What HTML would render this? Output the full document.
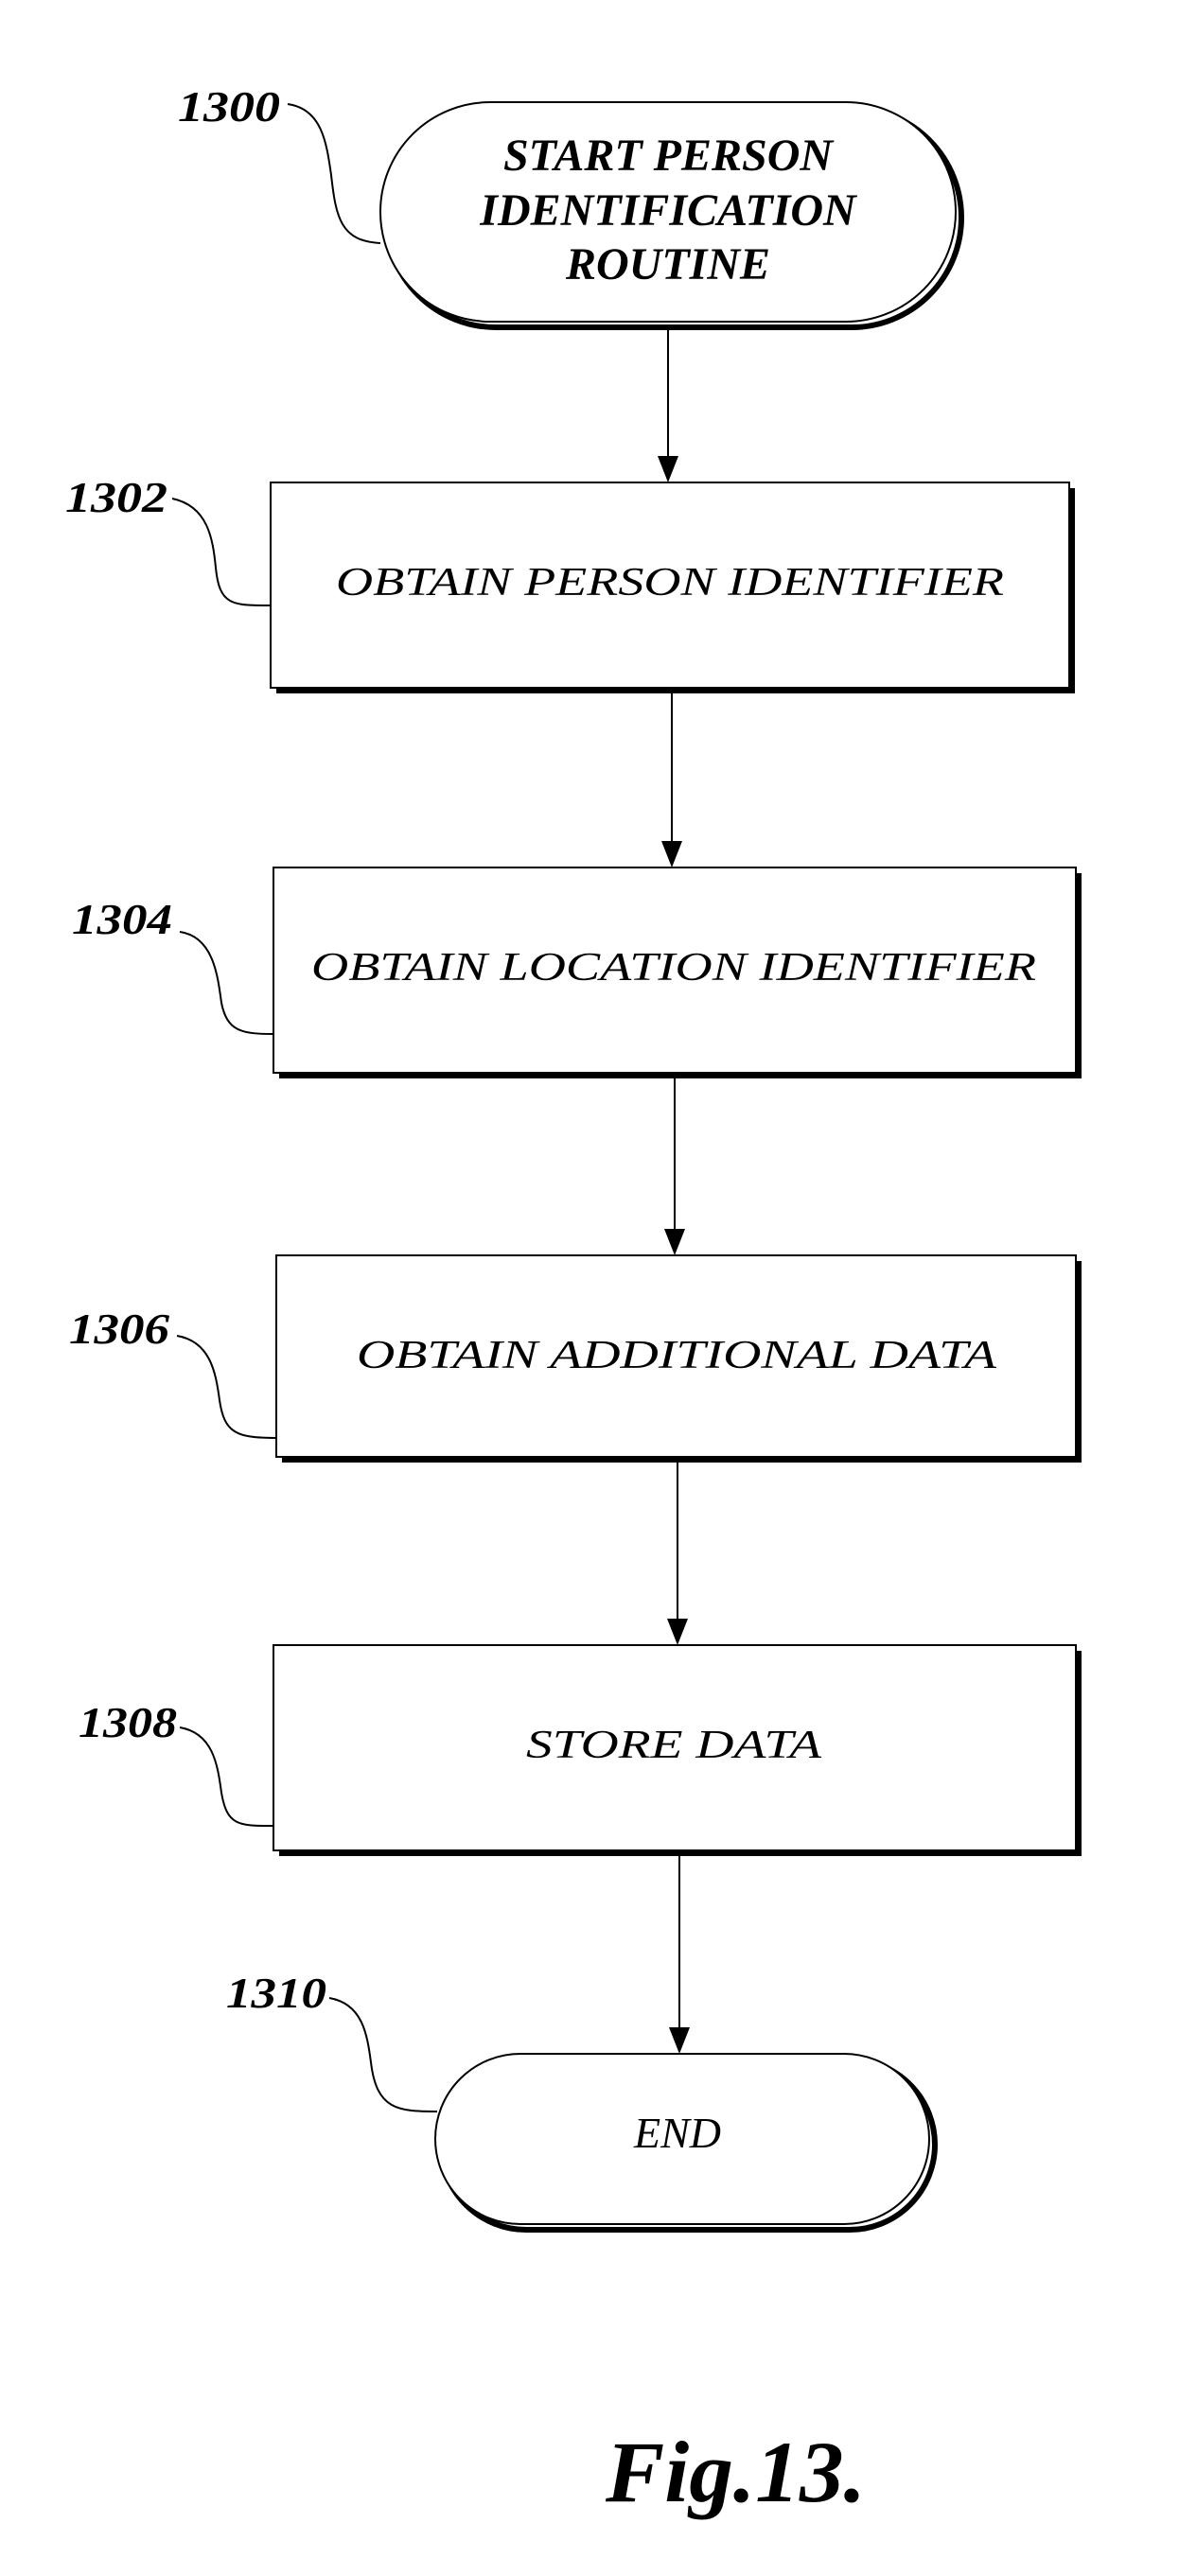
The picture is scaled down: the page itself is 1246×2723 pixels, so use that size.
<!DOCTYPE html>
<html><head><meta charset="utf-8"><style>
html,body{margin:0;padding:0;background:#fff;}
svg{display:block;}
text{font-family:"Liberation Serif",serif;font-style:italic;font-weight:bold;fill:#000;}
.t{font-weight:normal;}
</style></head><body>
<svg width="1246" height="2723" viewBox="0 0 1246 2723" xmlns="http://www.w3.org/2000/svg">
<g fill="none" stroke="#000" stroke-width="2">
<rect x="408" y="114" width="608" height="232" rx="116" stroke-width="6" stroke="#000"/>
<rect x="402" y="108" width="608" height="232" rx="116" fill="#fff" stroke-width="2"/>
<rect x="292" y="516" width="844" height="217" fill="#000" stroke="none"/>
<rect x="286" y="510" width="844" height="217" fill="#fff"/>
<rect x="295" y="923" width="848" height="217" fill="#000" stroke="none"/>
<rect x="289" y="917" width="848" height="217" fill="#fff"/>
<rect x="298" y="1333" width="845" height="213" fill="#000" stroke="none"/>
<rect x="292" y="1327" width="845" height="213" fill="#fff"/>
<rect x="295" y="1745" width="848" height="217" fill="#000" stroke="none"/>
<rect x="289" y="1739" width="848" height="217" fill="#fff"/>
<rect x="466" y="2177" width="522" height="180" rx="90" stroke-width="6"/>
<rect x="460" y="2171" width="522" height="180" rx="90" fill="#fff"/>
<line x1="706" y1="346" x2="706" y2="485"/>
<line x1="710" y1="733" x2="710" y2="892"/>
<line x1="713" y1="1140" x2="713" y2="1302"/>
<line x1="716" y1="1546" x2="716" y2="1714"/>
<line x1="718" y1="1962" x2="718" y2="2146"/>
<path d="M304,110 C340,115 345,150 350,185 C355,230 360,255 402,257"/>
<path d="M182,527 C220,535 225,570 228,600 C232,640 245,640 286,640"/>
<path d="M190,985 C225,990 230,1030 234,1060 C240,1090 255,1093 289,1093"/>
<path d="M187,1412 C222,1418 228,1450 232,1480 C237,1515 250,1520 292,1520"/>
<path d="M190,1826 C225,1832 230,1865 234,1895 C240,1930 252,1930 289,1930"/>
<path d="M348,2112 C383,2118 388,2150 392,2180 C398,2230 420,2232 462,2232"/>
</g>
<g fill="#000">
<polygon points="695,482 717,482 706,510"/>
<polygon points="699,889 721,889 710,917"/>
<polygon points="702,1299 724,1299 713,1327"/>
<polygon points="705,1711 727,1711 716,1739"/>
<polygon points="707,2143 729,2143 718,2171"/>
</g>
<text x="706" y="180" font-size="48" text-anchor="middle">START PERSON</text>
<text x="706" y="238" font-size="48" text-anchor="middle">IDENTIFICATION</text>
<text x="706" y="295" font-size="48" text-anchor="middle">ROUTINE</text>
<text class="t" x="708" y="629" font-size="42" text-anchor="middle" textLength="706" lengthAdjust="spacingAndGlyphs">OBTAIN PERSON IDENTIFIER</text>
<text class="t" x="712" y="1036" font-size="42" text-anchor="middle" textLength="766" lengthAdjust="spacingAndGlyphs">OBTAIN LOCATION IDENTIFIER</text>
<text class="t" x="715" y="1446" font-size="42" text-anchor="middle" textLength="676" lengthAdjust="spacingAndGlyphs">OBTAIN ADDITIONAL DATA</text>
<text class="t" x="712" y="1858" font-size="42" text-anchor="middle" textLength="312" lengthAdjust="spacingAndGlyphs">STORE DATA</text>
<text class="t" x="716" y="2270" font-size="46" text-anchor="middle">END</text>
<text x="188" y="128" font-size="46" textLength="108" lengthAdjust="spacingAndGlyphs">1300</text>
<text x="69" y="541" font-size="46" textLength="108" lengthAdjust="spacingAndGlyphs">1302</text>
<text x="76" y="987" font-size="46" textLength="106" lengthAdjust="spacingAndGlyphs">1304</text>
<text x="73" y="1420" font-size="46" textLength="106" lengthAdjust="spacingAndGlyphs">1306</text>
<text x="83" y="1836" font-size="46" textLength="104" lengthAdjust="spacingAndGlyphs">1308</text>
<text x="239" y="2122" font-size="46" textLength="106" lengthAdjust="spacingAndGlyphs">1310</text>
<text x="640" y="2644" font-size="92" textLength="275" lengthAdjust="spacingAndGlyphs">Fig.13.</text>
</svg>
</body></html>
